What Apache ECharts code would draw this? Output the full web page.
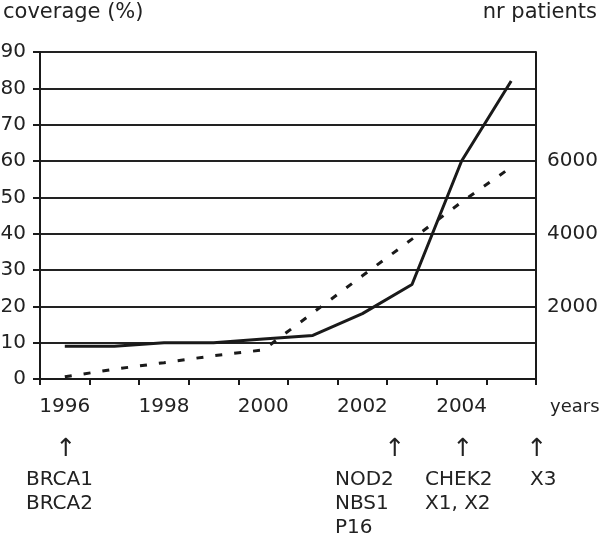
<!DOCTYPE html>
<html><head><meta charset="utf-8">
<script src="https://cdn.jsdelivr.net/npm/echarts@6/dist/echarts.min.js"></script>
<style>html,body{margin:0;padding:0;background:#fff}#c{width:600px;height:540px}</style>
</head><body><div id="c"></div>
<script>
const years = ['1996','1997','1998','1999','2000','2001','2002','2003','2004','2005'];
const coverage = [9, 9, 10, 10, 11, 12, 18, 26, 60, 82];
const patients = [60, 270, 450, 640, 800, 1820, 2840, 3850, 4870, 5830];
const rightTickLabels = [2000, 4000, 6000];
const annotations = [
  {arrowX: 66, textX: 26, lines: ['BRCA1', 'BRCA2']},
  {arrowX: 395, textX: 335, lines: ['NOD2', 'NBS1', 'P16']},
  {arrowX: 463, textX: 425, lines: ['CHEK2', 'X1, X2']},
  {arrowX: 537, textX: 530, lines: ['X3']}
];
const FONT = '"DejaVu Sans", sans-serif';
const TXT = '#222';
const LINE = '#1a1a1a';

const graphics = [
  {type:'text', left: 3, top: 2, style:{text:'coverage (%)', font:'21px ' + FONT, fill: TXT}},
  {type:'text', right: 3, top: 2, style:{text:'nr patients', font:'21px ' + FONT, fill: TXT}},
  {type:'text', x: 550, y: 407, style:{text:'years', font:'18px ' + FONT, fill: TXT, align:'left', verticalAlign:'middle'}}
];
annotations.forEach(a => {
  graphics.push({type:'text', x: a.arrowX, y: 449, style:{text:'↑', font:'25px ' + FONT, fill: TXT, align:'center', verticalAlign:'middle'}});
  a.lines.forEach((t, i) => {
    graphics.push({type:'text', x: a.textX, y: 480 + i * 24, style:{text: t, font:'20px ' + FONT, fill: TXT, align:'left', verticalAlign:'middle'}});
  });
});

const chart = echarts.init(document.getElementById('c'), null, {renderer:'canvas'});
chart.setOption({
  animation: false,
  backgroundColor: '#fff',
  textStyle: {fontFamily: FONT},
  grid: {left: 40, right: 64, top: 52, bottom: 161, containLabel: false, outerBoundsMode: 'none'},
  graphic: graphics,
  xAxis: {
    type: 'category', data: years, boundaryGap: true,
    axisLine: {show: true, lineStyle: {color: LINE, width: 2}},
    axisTick: {show: true, interval: 0, length: 6, lineStyle: {color: LINE, width: 2}},
    axisLabel: {interval: 1, color: TXT, fontSize: 20, margin: 18, fontFamily: FONT},
    splitLine: {show: false}
  },
  yAxis: [
    {
      type: 'value', min: 0, max: 90, interval: 10, position: 'left',
      axisLine: {show: true, lineStyle: {color: LINE, width: 2}},
      axisTick: {show: true, inside: false, length: 7, lineStyle: {color: LINE, width: 2}},
      axisLabel: {color: TXT, fontSize: 20, margin: 14, fontFamily: FONT},
      splitLine: {show: true, lineStyle: {color: '#222', width: 2}}
    },
    {
      type: 'value', min: 0, max: 9000, interval: 1000, position: 'right',
      axisLine: {show: true, lineStyle: {color: LINE, width: 2}},
      axisTick: {show: false},
      axisLabel: {color: TXT, fontSize: 20, margin: 11, fontFamily: FONT,
        formatter: v => rightTickLabels.includes(v) ? String(v) : ''},
      splitLine: {show: false}
    }
  ],
  series: [
    {type: 'line', name: 'coverage', data: coverage, yAxisIndex: 0, symbol: 'none',
     lineStyle: {color: LINE, width: 3, type: 'solid'}, z: 3},
    {type: 'line', name: 'nr patients', data: patients, yAxisIndex: 1, symbol: 'none',
     lineStyle: {color: LINE, width: 3, type: [7, 12]}, z: 3}
  ]
});
</script></body></html>
